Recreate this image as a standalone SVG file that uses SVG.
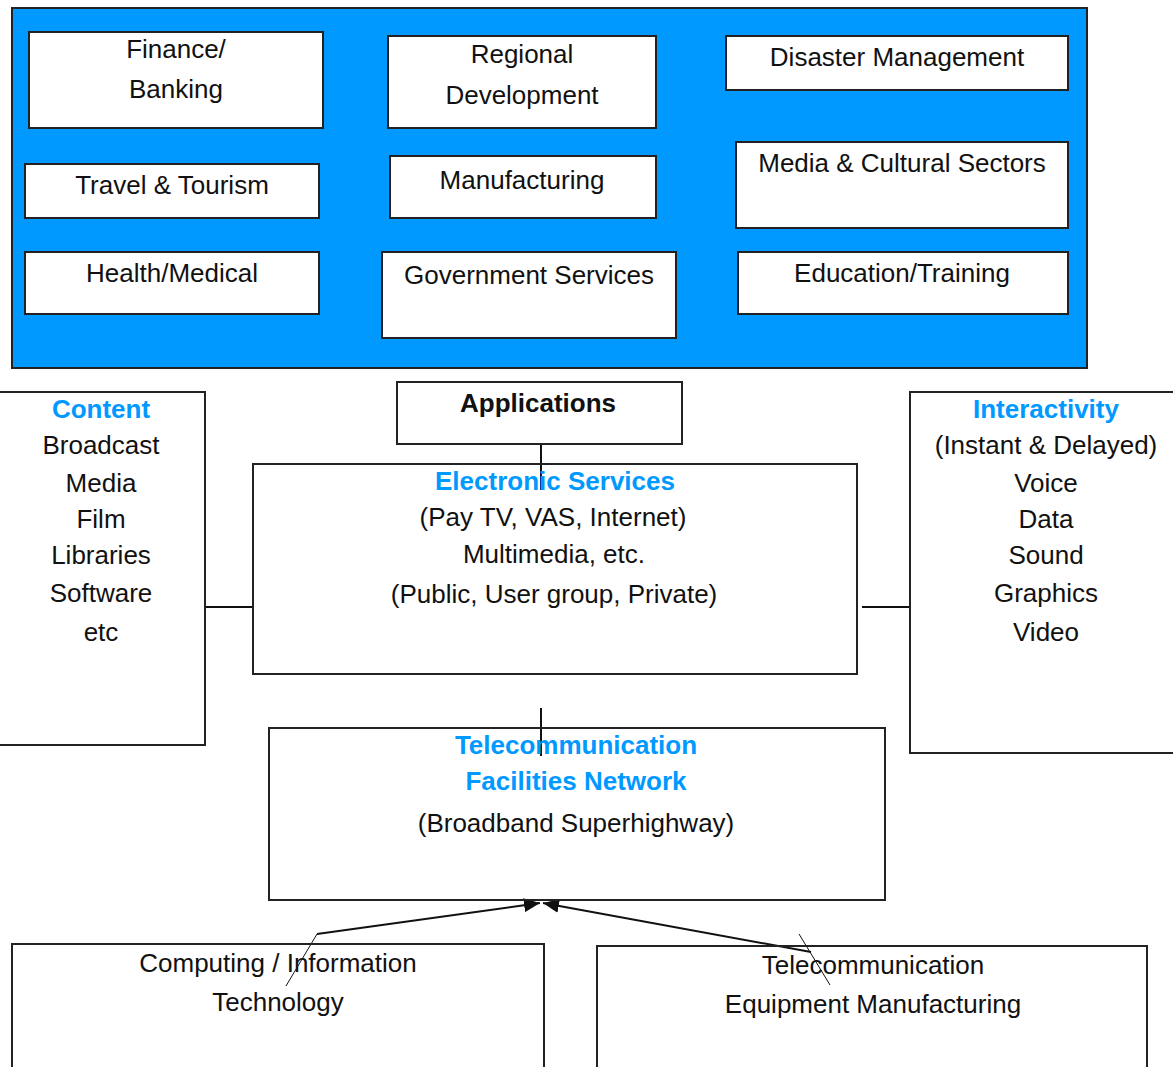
<svg xmlns="http://www.w3.org/2000/svg" width="1173" height="1067" viewBox="0 0 1173 1067">
<style>
  .box { fill: #ffffff; stroke: #222222; stroke-width: 2; }
  .t { font-family: "Liberation Sans", Arial, sans-serif; font-size: 26px; fill: #111111; text-anchor: middle; }
  .h { font-family: "Liberation Sans", Arial, sans-serif; font-size: 26px; font-weight: bold; fill: #0099ff; text-anchor: middle; }
  .hb { font-family: "Liberation Sans", Arial, sans-serif; font-size: 26px; font-weight: bold; fill: #111111; text-anchor: middle; }
  .ln { stroke: #111111; stroke-width: 2; fill: none; }
  .tick { stroke: #111111; stroke-width: 1; fill: none; }
</style>
<defs>
  <marker id="arr" viewBox="0 0 16 14" refX="16" refY="7" markerWidth="16" markerHeight="14" markerUnits="userSpaceOnUse" orient="auto">
    <path d="M0,0 L16,7 L0,14 Z" fill="#111111"/>
  </marker>
</defs>
<rect width="1173" height="1067" fill="#ffffff"/>

<g id="applications-panel">
  <rect x="12" y="8" width="1075" height="360" fill="#0099ff" stroke="#222222" stroke-width="2"/>
</g>
<g id="finance">
  <rect class="box" x="29" y="32" width="294" height="96"/>
  <text class="t" x="176" y="58">Finance/</text>
  <text class="t" x="176" y="98">Banking</text>
</g>
<g id="travel">
  <rect class="box" x="25" y="164" width="294" height="54"/>
  <text class="t" x="172" y="194">Travel &amp; Tourism</text>
</g>
<g id="health">
  <rect class="box" x="25" y="252" width="294" height="62"/>
  <text class="t" x="172" y="282">Health/Medical</text>
</g>
<g id="regional">
  <rect class="box" x="388" y="36" width="268" height="92"/>
  <text class="t" x="522" y="63">Regional</text>
  <text class="t" x="522" y="104">Development</text>
</g>
<g id="manufacturing">
  <rect class="box" x="390" y="156" width="266" height="62"/>
  <text class="t" x="522" y="189">Manufacturing</text>
</g>
<g id="government">
  <rect class="box" x="382" y="252" width="294" height="86"/>
  <text class="t" x="529" y="284">Government Services</text>
</g>
<g id="disaster">
  <rect class="box" x="726" y="36" width="342" height="54"/>
  <text class="t" x="897" y="66">Disaster Management</text>
</g>
<g id="media">
  <rect class="box" x="736" y="142" width="332" height="86"/>
  <text class="t" x="902" y="172">Media &amp; Cultural Sectors</text>
</g>
<g id="education">
  <rect class="box" x="738" y="252" width="330" height="62"/>
  <text class="t" x="902" y="282">Education/Training</text>
</g>

<g id="connectors">
  <line class="ln" x1="541" y1="444" x2="541" y2="490"/>
  <line class="ln" x1="205" y1="607" x2="253" y2="607"/>
  <line class="ln" x1="862" y1="607" x2="910" y2="607"/>
  <line class="ln" x1="541" y1="708" x2="541" y2="756"/>
  <line class="ln" x1="317" y1="934" x2="540" y2="903" marker-end="url(#arr)"/>
  <line class="ln" x1="811" y1="952" x2="543" y2="903" marker-end="url(#arr)"/>
  <line class="tick" x1="317" y1="934" x2="286" y2="986"/>
  <line class="tick" x1="799" y1="934" x2="830" y2="985"/>
</g>

<g id="applications">
  <rect class="box" x="397" y="382" width="285" height="62"/>
  <text class="hb" x="538" y="412">Applications</text>
</g>
<g id="content">
  <rect class="box" x="-2" y="392" width="207" height="353"/>
  <text class="h" x="101" y="418">Content</text>
  <text class="t" x="101" y="454">Broadcast</text>
  <text class="t" x="101" y="492">Media</text>
  <text class="t" x="101" y="528">Film</text>
  <text class="t" x="101" y="564">Libraries</text>
  <text class="t" x="101" y="602">Software</text>
  <text class="t" x="101" y="641">etc</text>
</g>
<g id="electronic-services">
  <rect class="box" x="253" y="464" width="604" height="210" fill-opacity="0"/>
  <text class="h" x="555" y="490">Electronic Services</text>
  <text class="t" x="553" y="526">(Pay TV, VAS, Internet)</text>
  <text class="t" x="554" y="563">Multimedia, etc.</text>
  <text class="t" x="554" y="603">(Public, User group, Private)</text>
</g>
<g id="interactivity">
  <rect class="box" x="910" y="392" width="266" height="361"/>
  <text class="h" x="1046" y="418">Interactivity</text>
  <text class="t" x="1046" y="454">(Instant &amp; Delayed)</text>
  <text class="t" x="1046" y="492">Voice</text>
  <text class="t" x="1046" y="528">Data</text>
  <text class="t" x="1046" y="564">Sound</text>
  <text class="t" x="1046" y="602">Graphics</text>
  <text class="t" x="1046" y="641">Video</text>
</g>
<g id="telecom-network">
  <rect class="box" x="269" y="728" width="616" height="172" fill-opacity="0"/>
  <text class="h" x="576" y="754">Telecommunication</text>
  <text class="h" x="576" y="790">Facilities Network</text>
  <text class="t" x="576" y="832">(Broadband Superhighway)</text>
</g>
<g id="computing">
  <rect class="box" x="12" y="944" width="532" height="140" fill-opacity="0"/>
  <text class="t" x="278" y="972">Computing / Information</text>
  <text class="t" x="278" y="1011">Technology</text>
</g>
<g id="telecom-equipment">
  <rect class="box" x="597" y="946" width="550" height="140" fill-opacity="0"/>
  <text class="t" x="873" y="974">Telecommunication</text>
  <text class="t" x="873" y="1013">Equipment Manufacturing</text>
</g>
</svg>
